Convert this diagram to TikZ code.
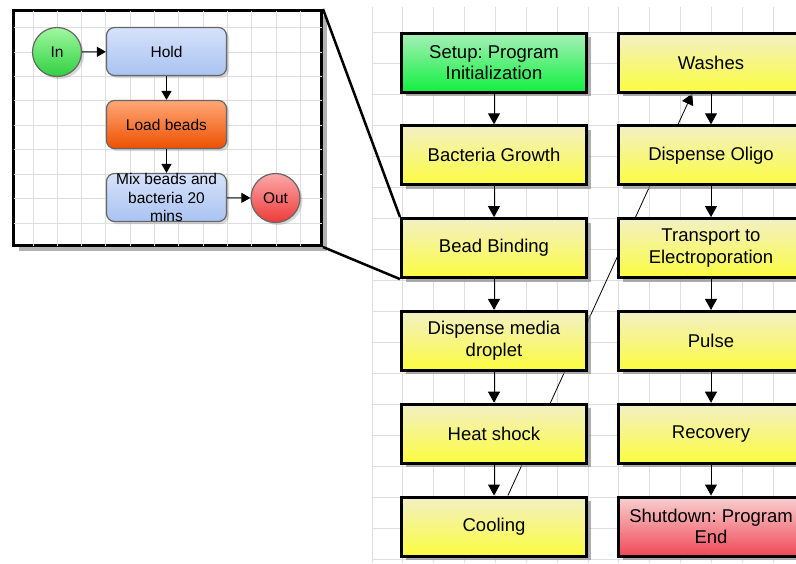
\documentclass[tikz,border=0pt]{standalone}
\usepackage{fontspec}
\setmainfont{Liberation Sans}
\frenchspacing
\usetikzlibrary{arrows.meta,shadows,calc,backgrounds}
\definecolor{ytop}{RGB}{242,240,196}
\definecolor{ybot}{RGB}{252,252,64}
\definecolor{gtop}{RGB}{168,240,184}
\definecolor{gbot}{RGB}{16,240,64}
\definecolor{rtop}{RGB}{248,208,208}
\definecolor{rbot}{RGB}{240,72,88}
\definecolor{btop}{RGB}{214,226,250}
\definecolor{bbot}{RGB}{169,195,242}
\definecolor{otop}{RGB}{255,168,120}
\definecolor{obot}{RGB}{238,80,0}
\definecolor{ictop}{RGB}{160,248,160}
\definecolor{icbot}{RGB}{48,208,64}
\definecolor{octop}{RGB}{252,168,168}
\definecolor{ocbot}{RGB}{238,58,58}
\definecolor{gridc}{RGB}{222,222,222}
\tikzset{
  mainbox/.style={draw=black, line width=3pt, minimum width=185pt, minimum height=59pt,
    inner sep=0pt, align=center, font=\fontsize{18.5}{21.7}\selectfont,
    drop shadow={shadow xshift=4pt, shadow yshift=-4pt, fill=black!45, opacity=0.7}},
  ybox/.style={mainbox, top color=ytop, bottom color=ybot},
  gbox/.style={mainbox, top color=gtop, bottom color=gbot},
  rbox/.style={mainbox, top color=rtop, bottom color=rbot},
  ibox/.style={draw=black!60, line width=1.2pt, rounded corners=8pt, minimum width=120pt,
    minimum height=48pt, inner sep=0pt, align=center, font=\fontsize{15.5}{18.3}\selectfont,
    drop shadow={shadow xshift=2.5pt, shadow yshift=-2.5pt, opacity=0.3}},
  icirc/.style={circle, draw=black!60, line width=1.2pt, minimum size=49pt, inner sep=0pt,
    font=\fontsize{15.5}{18.3}\selectfont,
    drop shadow={shadow xshift=2.5pt, shadow yshift=-2.5pt, opacity=0.3}},
  insetframe/.style={draw=black, line width=3pt, fill=white, inner sep=0pt,
    minimum width=308pt, minimum height=235pt,
    drop shadow={shadow xshift=5pt, shadow yshift=-5pt, fill=black!50, opacity=0.6}},
  flow/.style={line width=1pt, -{Triangle[length=11pt,width=12pt]}},
  iflow/.style={line width=1pt, -{Triangle[length=9pt,width=10pt]}},
  gridline/.style={gridc, line width=0.9pt},
  zoomline/.style={line width=2.5pt, black},
}
\begin{document}
\begin{tikzpicture}[x=1pt,y=-1pt]
\useasboundingbox (0,0) rectangle (796,563);
\begin{pgfonlayer}{background}
  \fill[white] (0,0) rectangle (796,563);
  \foreach \i in {0,...,13} \draw[gridline] ({372+30.85*\i},7) -- ({372+30.85*\i},563);
  \foreach \j in {0,...,17} \draw[gridline] (372,{32+31.05*\j}) -- (796,{32+31.05*\j});
\end{pgfonlayer}

% main flow, left column
\node[gbox] (setup) at (494,62.5) {Setup: Program\\Initialization};
\node[ybox] (bact)  at (494,155.3) {Bacteria Growth};
\node[ybox] (bead)  at (494,248.1) {Bead Binding};
\node[ybox] (disp)  at (494,340.9) {Dispense media\\droplet};
\node[ybox] (heat)  at (494,433.7) {Heat shock};
\node[ybox] (cool)  at (494,526.5) {Cooling};
% right column
\node[ybox] (wash)  at (711,62.5) {Washes};
\node[ybox] (oligo) at (711,155.3) {Dispense Oligo};
\node[ybox] (trans) at (711,248.1) {Transport to\\Electroporation};
\node[ybox] (pulse) at (711,340.9) {Pulse};
\node[ybox] (recov) at (711,433.7) {Recovery};
\node[rbox] (shut)  at (711,526.5) {Shutdown: Program\\End};

\draw[flow] (setup) -- (bact);
\draw[flow] (bact) -- (bead);
\draw[flow] (bead) -- (disp);
\draw[flow] (disp) -- (heat);
\draw[flow] (heat) -- (cool);
\draw[flow] (wash) -- (oligo);
\draw[flow] (oligo) -- (trans);
\draw[flow] (trans) -- (pulse);
\draw[flow] (pulse) -- (recov);
\draw[flow] (recov) -- (shut);

\begin{pgfonlayer}{background}
  \draw[line width=0.8pt, -{Triangle[length=11pt,width=12pt]}]
    ($(cool.north west)!0.574!(cool.north east)$) -- ($(wash.south west)!0.40!(wash.south east)$);
\end{pgfonlayer}

% inset
\node[insetframe] (inset) at (167.5,128) {};
\foreach \i in {0,...,11} \draw[gridline] ({33+24.3*\i},10.5) -- ({33+24.3*\i},245.5);
\foreach \j in {0,...,8} \draw[gridline] (13.5,{27.5+24.45*\j}) -- (321.5,{27.5+24.45*\j});

\node[icirc, top color=ictop, bottom color=icbot] (in) at (57,52) {In};
\node[ibox, top color=btop, bottom color=bbot] (hold) at (166.5,51.5) {Hold};
\node[ibox, top color=otop, bottom color=obot] (load) at (166.5,124.5) {Load beads};
\node[ibox, top color=btop, bottom color=bbot] (mix) at (166.5,197.5) {Mix beads and\\bacteria 20\\mins};
\node[icirc, top color=octop, bottom color=ocbot] (out) at (275.5,198) {Out};

\draw[iflow] (in) -- (hold);
\draw[iflow] (hold) -- (load);
\draw[iflow] (load) -- (mix);
\draw[iflow] (mix) -- (out);

\draw[zoomline] (inset.north east) -- (bead.north west);
\draw[zoomline] (inset.south east) -- (bead.south west);
\end{tikzpicture}
\end{document}
